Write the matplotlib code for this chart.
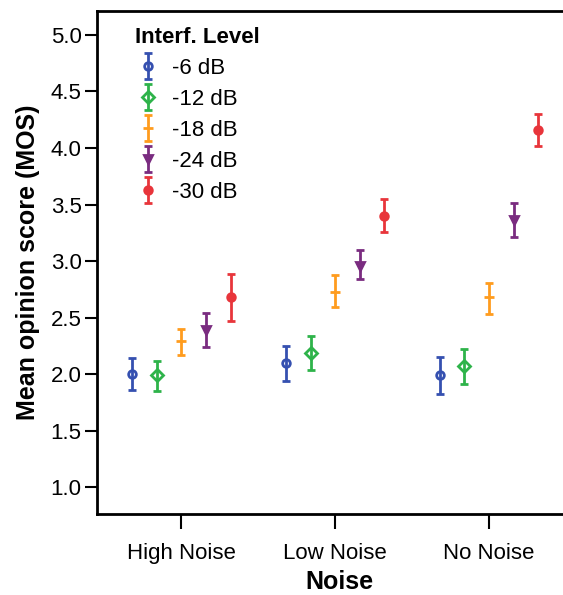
import numpy as np
import matplotlib.pyplot as plt
from matplotlib.container import ErrorbarContainer
from matplotlib.legend_handler import HandlerErrorbar

plt.rcParams['font.family'] = ['Liberation Sans', 'DejaVu Sans']

groups = ['High Noise', 'Low Noise', 'No Noise']
levels = ['-6 dB', '-12 dB', '-18 dB', '-24 dB', '-30 dB']

# mean and error bar limits per level (High, Low, No noise)
mos = {
    '-6 dB':  [2.00, 2.10, 1.99],
    '-12 dB': [1.99, 2.19, 2.07],
    '-18 dB': [2.29, 2.73, 2.68],
    '-24 dB': [2.39, 2.96, 3.36],
    '-30 dB': [2.68, 3.40, 4.16],
}
upper = {
    '-6 dB':  [2.14, 2.25, 2.15],
    '-12 dB': [2.12, 2.34, 2.22],
    '-18 dB': [2.40, 2.88, 2.81],
    '-24 dB': [2.54, 3.10, 3.51],
    '-30 dB': [2.89, 3.55, 4.30],
}
lower = {
    '-6 dB':  [1.86, 1.94, 1.83],
    '-12 dB': [1.85, 2.04, 1.91],
    '-18 dB': [2.17, 2.59, 2.53],
    '-24 dB': [2.24, 2.84, 3.21],
    '-30 dB': [2.47, 3.26, 4.02],
}

colors = ['#3550b0', '#2eb34a', '#ff9c1e', '#7a2c80', '#e8353b']
markers = ['o', 'D', '_', 'v', 'o']
msizes = [5.5, 6.5, 7, 5.5, 5.5]
fills = ['none', 'none', 'full', 'full', 'full']
offsets = [-0.32, -0.16, 0, 0.16, 0.32]

fig = plt.figure(figsize=(5.63, 5.95), dpi=100)
ax = fig.add_axes([0.1723, 0.1361, 0.86, 0.8454])

x = np.arange(len(groups))
for i, lev in enumerate(levels):
    m = np.array(mos[lev])
    err = [m - np.array(lower[lev]), np.array(upper[lev]) - m]
    mfc = 'none' if fills[i] == 'none' else colors[i]
    ax.errorbar(x + offsets[i], m, yerr=err, fmt=markers[i], color=colors[i],
                ms=msizes[i], mfc=mfc, mec=colors[i], mew=2, elinewidth=2,
                capsize=3, capthick=2, label=lev)

ax.set_xlim(-0.549, 2.6)
ax.set_ylim(0.765, 5.21)
ax.set_xticks(x)
ax.set_xticklabels(groups, fontsize=16)
ax.set_yticks(np.arange(1.0, 5.01, 0.5))
ax.set_yticklabels([f'{v:.1f}' for v in np.arange(1.0, 5.01, 0.5)], fontsize=16)
ax.tick_params(axis='y', length=9, width=1.5, pad=2)
ax.tick_params(axis='x', length=11, width=1.5, pad=10)
ax.spines['right'].set_visible(False)
for s in ['left', 'bottom', 'top']:
    ax.spines[s].set_linewidth(2)

ax.set_xlabel('Noise', fontsize=18, fontweight='bold', labelpad=4)
ax.set_ylabel('Mean opinion score (MOS)', fontsize=18, fontweight='bold', labelpad=8)

leg = ax.legend(loc='upper left', bbox_to_anchor=(0.05, 0.995), frameon=False,
                fontsize=16, title='Interf. Level',
                title_fontproperties={'weight': 'bold', 'size': 16},
                handlelength=1.2, handletextpad=0.5, labelspacing=0.45,
                borderaxespad=0.2,
                handler_map={ErrorbarContainer: HandlerErrorbar(yerr_size=0.6)})
leg._legend_box.align = 'left'

fig.savefig('out.png', dpi=100)
